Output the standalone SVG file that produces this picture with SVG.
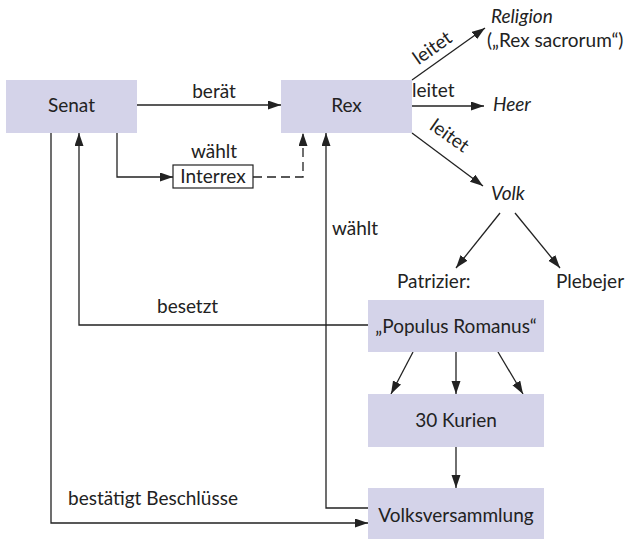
<svg xmlns="http://www.w3.org/2000/svg" width="636" height="539" viewBox="0 0 636 539">
<defs>
<marker id="ah" markerUnits="userSpaceOnUse" markerWidth="14" markerHeight="10" refX="13" refY="4.5" orient="auto"><path d="M0,0 L13,4.5 L0,9 z" fill="#222"/></marker>
<style>
.box{fill:#d4d3e9}
.t{font-family:Lato,"Liberation Sans",sans-serif;font-size:19px;fill:#222}
.m{text-anchor:middle}
.i{font-style:italic}
.ln{fill:none;stroke:#222;stroke-width:1.3}
.ar{marker-end:url(#ah)}
.da{stroke-dasharray:9,5}
</style>
</defs>
<rect width="636" height="539" fill="#fff"/>
<g id="connectors">
<path class="ln ar" d="M137,105 H281"/>
<path class="ln ar" d="M117,133 V177 H173"/>
<path class="ln da ar" d="M253,177 H303 V133"/>
<path class="ln ar" d="M412,80 L485,28"/>
<path class="ln ar" d="M412,106 H484"/>
<path class="ln ar" d="M412,133 L483,186"/>
<path class="ln ar" d="M500,213 L456,268"/>
<path class="ln ar" d="M515,213 L560,268"/>
<path class="ln ar" d="M368,325 H79 V133"/>
<path class="ln ar" d="M368,508 H326 V133"/>
<path class="ln ar" d="M51,133 V523 H368"/>
<path class="ln ar" d="M413,352 L391,394"/>
<path class="ln ar" d="M456,352 V394"/>
<path class="ln ar" d="M498,352 L523,394"/>
<path class="ln ar" d="M456,447 V488"/>
</g>
<g id="labels">
<text class="t m" x="214" y="98">berät</text>
<text class="t m" x="214" y="158">wählt</text>
<text class="t" x="332" y="235">wählt</text>
<text class="t" x="157" y="313">besetzt</text>
<text class="t" x="68" y="505">bestätigt Beschlüsse</text>
<text class="t m" transform="translate(436,53) rotate(-35)">leitet</text>
<text class="t" x="412" y="97">leitet</text>
<text class="t m" transform="translate(446,141) rotate(35)">leitet</text>
</g>
<g id="senat"><rect class="box" x="6" y="80" width="131" height="53"/><text class="t m" x="71.5" y="112">Senat</text></g>
<g id="rex"><rect class="box" x="281" y="80" width="131" height="53"/><text class="t m" x="346.5" y="112">Rex</text></g>
<g id="interrex"><rect x="173" y="165" width="80" height="23" fill="#fff" stroke="#222" stroke-width="1.2"/><text class="t m" x="213" y="183">Interrex</text></g>
<g id="religion"><text class="t i" x="491" y="23">Religion</text><text class="t" x="487" y="47">(„Rex sacrorum“)</text></g>
<g id="heer"><text class="t i" x="493" y="111">Heer</text></g>
<g id="volk"><text class="t i" x="491" y="200">Volk</text></g>
<g id="patrizier"><text class="t" x="397" y="288">Patrizier:</text></g>
<g id="plebejer"><text class="t" x="556" y="288">Plebejer</text></g>
<g id="populus"><rect class="box" x="368" y="300" width="176" height="52"/><text class="t m" x="456" y="333">„Populus Romanus“</text></g>
<g id="kurien"><rect class="box" x="368" y="394" width="176" height="53"/><text class="t m" x="456" y="427">30 Kurien</text></g>
<g id="volksversammlung"><rect class="box" x="368" y="488" width="176" height="51"/><text class="t m" x="456" y="522">Volksversammlung</text></g>
</svg>
